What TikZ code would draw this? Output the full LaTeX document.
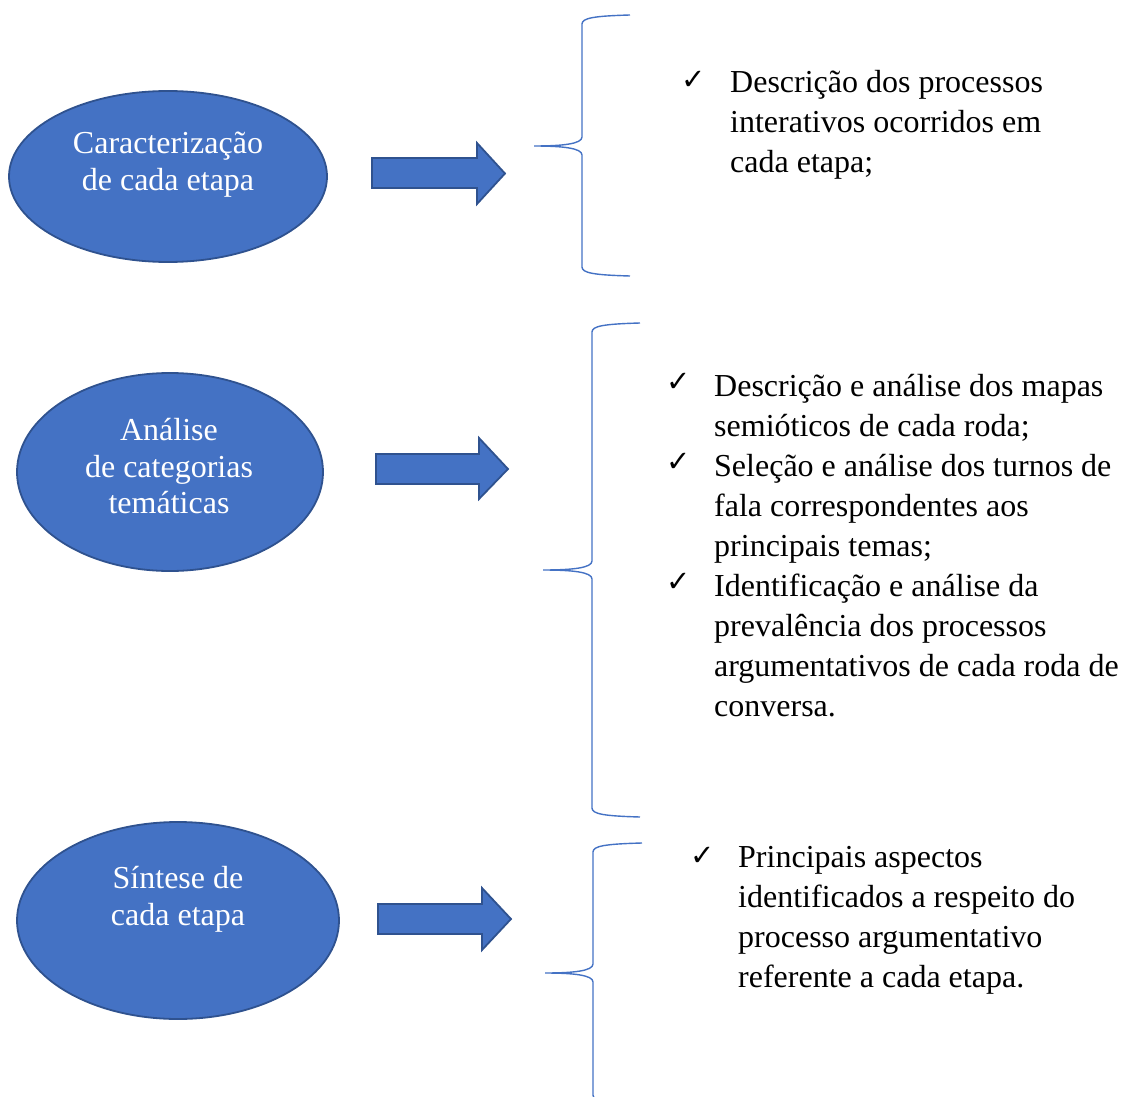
\documentclass[tikz,border=0pt]{standalone}
\usepackage{fontspec}
\setmainfont{Liberation Serif}
\newfontfamily\symfont{DejaVu Sans}
\usetikzlibrary{shapes.geometric}
\definecolor{accent}{HTML}{4472C4}
\definecolor{accentdark}{HTML}{2F528F}
\newcommand\drawbrace[6]{%
  \draw[bracepath] (#3,#4) .. controls (#1+12,#4+1) and (#1,#4+3) .. (#1,#4+9)
    -- (#1,#5-9) .. controls (#1,#5-2) and (#1-20,#5) .. (#2,#5)
    .. controls (#1-20,#5) and (#1,#5+2) .. (#1,#5+9)
    -- (#1,#6-9) .. controls (#1,#6-3) and (#1+12,#6-1) .. (#3,#6);}
\begin{document}
\begin{tikzpicture}[x=1pt,y=-1pt,
  oval/.style={ellipse, fill=accent, draw=accentdark, line width=1.8pt, inner sep=0pt},
  ovaltext/.style={anchor=base, text=white, font=\fontsize{32}{36}\selectfont, inner sep=0pt},
  blockarrow/.style={fill=accent, draw=accentdark, line width=1.8pt, line join=miter},
  bracepath/.style={draw=accent, line width=1.4pt},
  itemline/.style={anchor=base west, inner sep=0pt, font=\fontsize{32}{40}\selectfont},
  tick/.style={inner sep=0pt, font=\symfont\fontsize{29}{29}\selectfont}]
\useasboundingbox (0,0) rectangle (1125,1097);

% ellipses
\node[oval, minimum width=318pt, minimum height=171pt] (e1) at (168,176.5) {};
\node[oval, minimum width=306pt, minimum height=198pt] (e2) at (170,472) {};
\node[oval, minimum width=322pt, minimum height=197pt] (e3) at (178,920.5) {};

\node[ovaltext] (e1a) at (168,154) {Caracterização};
\node[ovaltext] (e1b) at (168,190) {de cada etapa};
\node[ovaltext] (e2a) at (169,440) {Análise};
\node[ovaltext] (e2b) at (169,477) {de categorias};
\node[ovaltext] (e2c) at (169,513) {temáticas};
\node[ovaltext] (e3a) at (178,888) {Síntese de};
\node[ovaltext] (e3b) at (178,925) {cada etapa};

% block arrows
\draw[blockarrow] (372,158) -- (477,158) -- (477,143) -- (505,173.5) -- (477,204) -- (477,188) -- (372,188) -- cycle;
\draw[blockarrow] (376,454) -- (479,454) -- (479,438) -- (508,469) -- (479,499) -- (479,484) -- (376,484) -- cycle;
\draw[blockarrow] (378,904) -- (482,904) -- (482,888) -- (511,919) -- (482,950) -- (482,934) -- (378,934) -- cycle;

% braces
\drawbrace{582}{534}{630}{15}{146}{276}
\drawbrace{592}{543}{640}{323}{570}{817}
\drawbrace{593}{545}{642}{843}{973}{1104}

% block 1
\node[tick] (c1) at (694,80) {✓};
\node[itemline] (t1a) at (730,93) {Descrição dos processos};
\node[itemline] (t1b) at (730,132.5) {interativos ocorridos em};
\node[itemline] (t1c) at (730,172) {cada etapa;};

% block 2
\node[tick] (c2) at (679,382) {✓};
\node[itemline] (t2a) at (714,396) {Descrição e análise dos mapas};
\node[itemline] (t2b) at (714,436) {semióticos de cada roda;};
\node[tick] (c3) at (679,462) {✓};
\node[itemline] (t2c) at (714,476) {Seleção e análise dos turnos de};
\node[itemline] (t2d) at (714,516) {fala correspondentes aos};
\node[itemline] (t2e) at (714,556) {principais temas;};
\node[tick] (c4) at (679,582) {✓};
\node[itemline] (t2f) at (714,596) {Identificação e análise da};
\node[itemline] (t2g) at (714,636) {prevalência dos processos};
\node[itemline] (t2h) at (714,676) {argumentativos de cada roda de};
\node[itemline] (t2i) at (714,716) {conversa.};

% block 3
\node[tick] (c5) at (703,856) {✓};
\node[itemline] (t3a) at (738,867) {Principais aspectos};
\node[itemline] (t3b) at (738,907) {identificados a respeito do};
\node[itemline] (t3c) at (738,947) {processo argumentativo};
\node[itemline] (t3d) at (738,987) {referente a cada etapa.};
\end{tikzpicture}
\end{document}
